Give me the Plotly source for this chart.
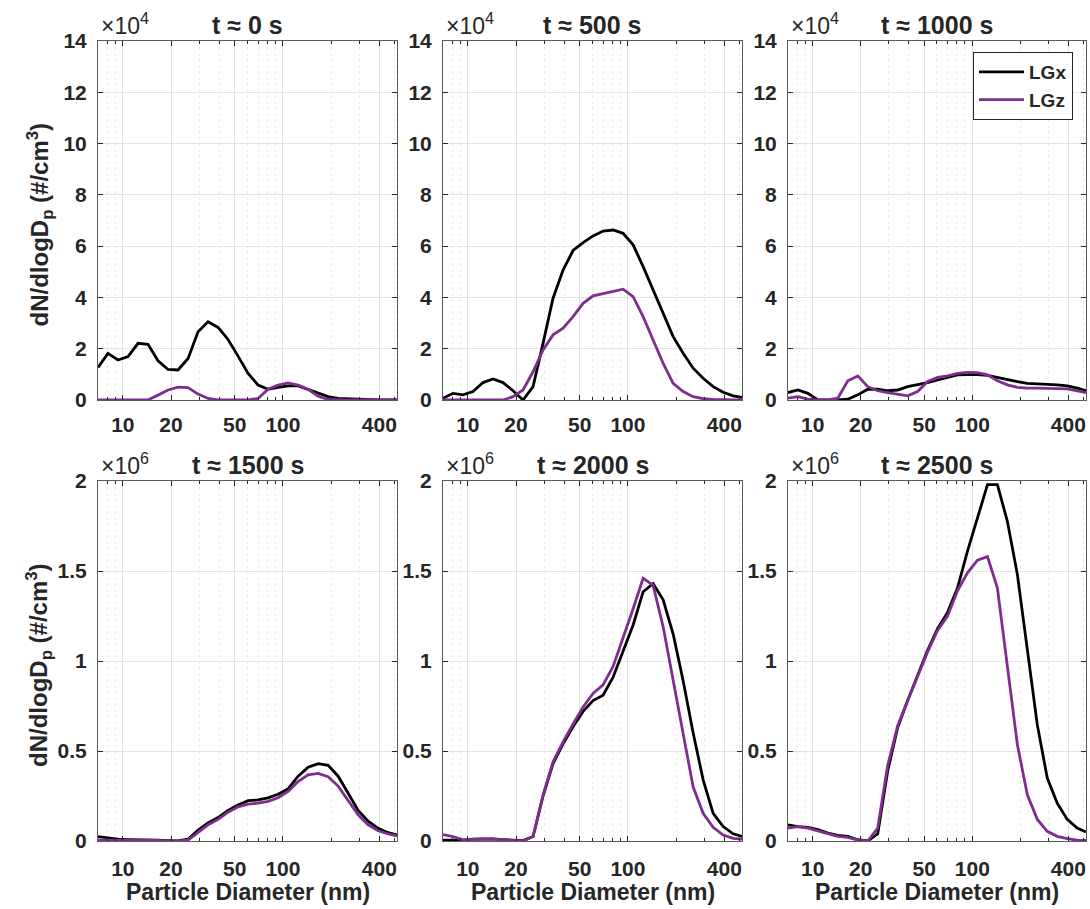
import plotly.graph_objects as go

# Particle diameter grid (nm)
diam = [7.0, 8.08, 9.33, 10.78, 12.45, 14.37, 16.6, 19.17, 22.13, 25.56, 29.51,
        34.07, 39.36, 45.44, 52.48, 60.6, 69.98, 80.8, 93.3, 107.8, 124.5,
        143.7, 166.0, 191.7, 221.3, 255.6, 295.1, 340.7, 393.6, 454.4, 516.0]

# t ~ 0 s (x1e4)
lgx_0 = [1.27, 1.82, 1.56, 1.69, 2.21, 2.17, 1.53, 1.19, 1.17, 1.62, 2.66, 3.05, 2.83, 2.36, 1.71,
         1.04, 0.58, 0.42, 0.49, 0.55, 0.55, 0.42, 0.26, 0.13, 0.06, 0.04, 0.02, 0.01, 0.0, 0.0, 0.0]
lgz_0 = [0, 0, 0, 0, 0, 0, 0.19, 0.39, 0.5, 0.48, 0.23, 0.06, 0, 0, 0,
         0, 0.06, 0.42, 0.58, 0.67, 0.58, 0.42, 0.15, 0.02, 0, 0, 0, 0, 0, 0, 0]
# t ~ 500 s (x1e4)
lgx_500 = [0.07, 0.26, 0.2, 0.33, 0.68, 0.82, 0.68, 0.36, 0.0, 0.52, 2.21, 3.97, 5.07, 5.83, 6.14,
           6.4, 6.59, 6.63, 6.5, 6.05, 5.2, 4.29, 3.32, 2.47, 1.82, 1.24, 0.85, 0.52, 0.3, 0.16, 0.1]
lgz_500 = [0, 0, 0, 0, 0, 0, 0, 0.13, 0.39, 1.1, 1.95, 2.54, 2.8, 3.25, 3.77,
           4.06, 4.14, 4.23, 4.32, 4.03, 3.25, 2.34, 1.43, 0.65, 0.33, 0.13, 0.05, 0.02, 0, 0, 0]
# t ~ 1000 s (x1e4)
lgx_1000 = [0.29, 0.39, 0.26, 0, 0, 0, 0.03, 0.2, 0.42, 0.42, 0.36, 0.39, 0.52, 0.59, 0.68,
            0.78, 0.88, 0.98, 0.99, 0.99, 0.96, 0.88, 0.78, 0.72, 0.65, 0.62, 0.61, 0.59, 0.55, 0.46, 0.36]
lgz_1000 = [0.07, 0.13, 0.03, 0, 0, 0.07, 0.75, 0.94, 0.52, 0.36, 0.29, 0.22, 0.16, 0.33, 0.72,
            0.88, 0.94, 1.04, 1.08, 1.07, 0.98, 0.75, 0.59, 0.49, 0.46, 0.46, 0.46, 0.44, 0.43, 0.36, 0.29]
# t ~ 1500 s (x1e6)
lgx_1500 = [0.024, 0.015, 0.01, 0.008, 0.008, 0.008, 0.005, 0.002, 0.0, 0.01, 0.06, 0.1, 0.13, 0.17, 0.2,
            0.224, 0.228, 0.24, 0.26, 0.29, 0.36, 0.41, 0.43, 0.42, 0.36, 0.265, 0.17, 0.11, 0.07, 0.046, 0.033]
lgz_1500 = [0.005, 0.005, 0.007, 0.008, 0.008, 0.006, 0.004, 0.001, 0.0, 0.005, 0.05, 0.09, 0.12, 0.16, 0.19,
            0.205, 0.21, 0.22, 0.24, 0.275, 0.33, 0.367, 0.376, 0.357, 0.305, 0.224, 0.145, 0.09, 0.057, 0.039, 0.028]
# t ~ 2000 s (x1e6)
lgx_2000 = [0.005, 0.005, 0.005, 0.01, 0.012, 0.012, 0.008, 0.004, 0.002, 0.025, 0.25, 0.43, 0.54, 0.635, 0.72,
            0.78, 0.81, 0.91, 1.05, 1.2, 1.385, 1.43, 1.34, 1.15, 0.89, 0.6, 0.34, 0.154, 0.08, 0.04, 0.025]
lgz_2000 = [0.035, 0.025, 0.006, 0.01, 0.011, 0.01, 0.006, 0.002, 0.0, 0.025, 0.255, 0.44, 0.55, 0.65, 0.745,
            0.82, 0.867, 0.97, 1.125, 1.29, 1.46, 1.42, 1.19, 0.89, 0.58, 0.3, 0.154, 0.076, 0.033, 0.015, 0.01]
# t ~ 2500 s (x1e6)
lgx_2500 = [0.09, 0.08, 0.076, 0.063, 0.044, 0.031, 0.026, 0.007, 0.0, 0.04, 0.39, 0.63, 0.78, 0.92, 1.06,
            1.18, 1.27, 1.405, 1.61, 1.795, 1.98, 1.98, 1.775, 1.48, 1.07, 0.645, 0.35, 0.21, 0.12, 0.072, 0.05]
lgz_2500 = [0.072, 0.08, 0.072, 0.057, 0.039, 0.026, 0.02, 0.005, 0.0, 0.072, 0.42, 0.64, 0.78, 0.915, 1.05,
            1.17, 1.25, 1.39, 1.49, 1.56, 1.58, 1.405, 0.98, 0.535, 0.257, 0.12, 0.054, 0.026, 0.013, 0.005, 0.004]

titles = ["t ≈ 0 s", "t ≈ 500 s", "t ≈ 1000 s", "t ≈ 1500 s", "t ≈ 2000 s", "t ≈ 2500 s"]
series_x = [lgx_0, lgx_500, lgx_1000, lgx_1500, lgx_2000, lgx_2500]
series_z = [lgz_0, lgz_500, lgz_1000, lgz_1500, lgz_2000, lgz_2500]
scales = [1e4, 1e4, 1e4, 1e6, 1e6, 1e6]
exp_labels = ["4", "4", "4", "6", "6", "6"]
x_ticks = [10, 20, 50, 100, 400]
x_minor = [7, 8, 9, 30, 40, 60, 70, 80, 90, 200, 300, 500]
y_ticks_top = [0, 2, 4, 6, 8, 10, 12, 14]
y_ticks_bot = [0, 0.5, 1, 1.5, 2]
y_ticklabels_bot = ["0", "0.5", "1", "1.5", "2"]

W, H = 1090, 909
FONT = "Liberation Sans, Arial, sans-serif"
TXT = "#262626"
BLACK = "#000000"
PURPLE = "#7E2F8E"

xdom_px = [(98, 397), (443, 742), (788, 1086)]
ydom_px = [(41, 400), (481, 841)]

fig = go.Figure()
layout = dict(width=W, height=H, margin=dict(l=0, r=0, t=0, b=0, pad=0, autoexpand=False),
              paper_bgcolor="white", plot_bgcolor="white",
              font=dict(family=FONT, color=TXT), showlegend=True)
annotations = []

for i in range(6):
    r, c = divmod(i, 3)
    n = i + 1
    xa = "x" if n == 1 else f"x{n}"
    ya = "y" if n == 1 else f"y{n}"
    xkey = "xaxis" if n == 1 else f"xaxis{n}"
    ykey = "yaxis" if n == 1 else f"yaxis{n}"
    s = scales[i]
    fig.add_trace(go.Scatter(x=diam, y=[v * s for v in series_x[i]], mode="lines",
                             line=dict(color=BLACK, width=2.8), name="LGx",
                             showlegend=(i == 2), xaxis=xa, yaxis=ya))
    fig.add_trace(go.Scatter(x=diam, y=[v * s for v in series_z[i]], mode="lines",
                             line=dict(color=PURPLE, width=2.8), name="LGz",
                             showlegend=(i == 2), xaxis=xa, yaxis=ya))
    x0, x1 = xdom_px[c]
    y0, y1 = ydom_px[r]
    layout[xkey] = dict(
        type="log", domain=[x0 / W, x1 / W], anchor=ya, automargin=False,
        range=[0.8451, 2.7126], tickvals=x_ticks, ticktext=[str(t) for t in x_ticks],
        ticks="inside", ticklen=5, tickcolor=TXT, mirror="ticks",
        showline=True, linecolor="#5a5a5a", linewidth=1,
        showgrid=True, gridcolor="#e3e3e3", gridwidth=1, zeroline=False,
        tickfont=dict(size=21, family=FONT, color=TXT, weight="bold"),
        ticklabelstandoff=(6 if r == 0 else 9),
        minor=dict(tickvals=x_minor, showgrid=True, gridcolor="#ebebeb",
                   griddash="dot", gridwidth=1, ticks="inside", ticklen=3, tickcolor=TXT),
    )
    if r == 0:
        yt = [v * s for v in y_ticks_top]
        ytt = [str(v) for v in y_ticks_top]
        yr = [0, 14 * s]
    else:
        yt = [v * s for v in y_ticks_bot]
        ytt = y_ticklabels_bot
        yr = [0, 2 * s]
    layout[ykey] = dict(
        domain=[1 - y1 / H, 1 - y0 / H], anchor=xa, range=yr, automargin=False,
        tickvals=yt, ticktext=ytt,
        ticks="inside", ticklen=5, tickcolor=TXT, mirror="ticks",
        showline=True, linecolor="#5a5a5a", linewidth=1,
        showgrid=True, gridcolor="#e3e3e3", gridwidth=1, zeroline=False,
        tickfont=dict(size=21, family=FONT, color=TXT, weight="bold"),
        ticklabelstandoff=6,
    )
    cx = (x0 + x1) / 2
    # panel title
    annotations.append(dict(text=f"<b>{titles[i]}</b>", x=cx / W, y=1 - (y0 - 16) / H,
                            xref="paper", yref="paper", xanchor="center", yanchor="middle",
                            showarrow=False, font=dict(size=25, family=FONT, color=TXT)))
    # exponent label
    annotations.append(dict(text=f"×10<sup>{exp_labels[i]}</sup>", x=(x0 + 1) / W, y=1 - (y0 - 17) / H,
                            xref="paper", yref="paper", xanchor="left", yanchor="middle",
                            showarrow=False, font=dict(size=23, family=FONT, color=TXT)))
    if r == 1:
        annotations.append(dict(text="<b>Particle Diameter (nm)</b>", x=cx / W, y=1 - 892 / H,
                                xref="paper", yref="paper", xanchor="center", yanchor="middle",
                                showarrow=False, font=dict(size=23, family=FONT, color=TXT)))
    if c == 0:
        annotations.append(dict(text="<b>dN/dlogD<sub>p</sub> (#/cm<sup>3</sup>)</b>",
                                x=39 / W, y=1 - ((y0 + y1) / 2 + 4) / H, textangle=-90,
                                xref="paper", yref="paper", xanchor="center", yanchor="middle",
                                showarrow=False, font=dict(size=24, family=FONT, color=TXT)))

layout["annotations"] = annotations
layout["legend"] = dict(x=1073 / W, y=1 - 52 / H, xanchor="right", yanchor="top",
                        bgcolor="white", bordercolor=TXT, borderwidth=1,
                        font=dict(size=19, family=FONT, color=TXT, weight="bold"),
                        itemwidth=45, tracegroupgap=0)
fig.update_layout(**layout)
fig.write_html("out.html")
